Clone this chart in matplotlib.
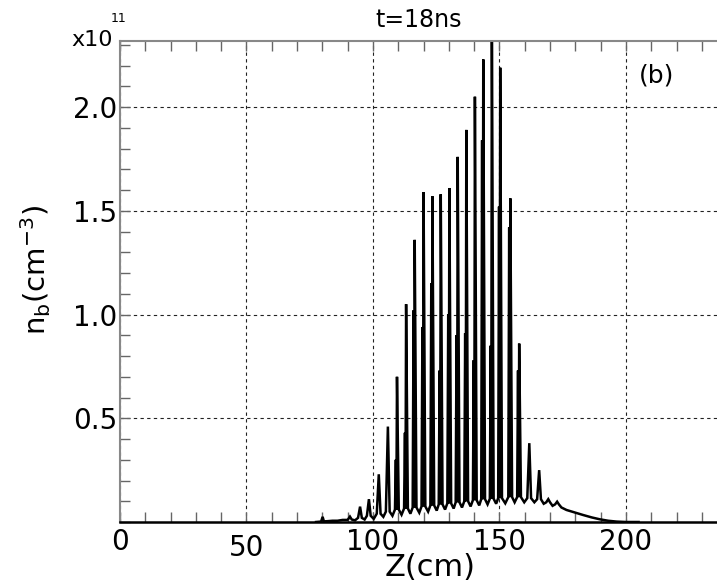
import matplotlib
matplotlib.use("Agg")
import matplotlib.pyplot as plt
from matplotlib.ticker import MultipleLocator

# ---- data (Z in cm, n_b in 1e11 cm^-3) ----
head_z = [77.5, 79.5, 80.1, 80.6, 82.0, 84.0, 86.0, 88.0, 89.8]
head_n = [0.0, 0.002, 0.025, 0.003, 0.004, 0.006, 0.006, 0.010, 0.010]

peak_z = [90.9, 94.9, 98.4, 102.3, 105.9, 109.5, 113.1, 116.5, 120.0, 123.5,
          126.8, 130.2, 133.5, 136.9, 140.3, 143.6, 147.0, 150.3, 154.3, 157.8,
          161.8, 165.7, 169.3, 172.8]
peak_n = [0.026, 0.074, 0.11, 0.23, 0.46, 0.70, 1.05, 1.36, 1.59, 1.57,
          1.58, 1.61, 1.76, 1.89, 2.05, 2.23, 2.45, 2.19, 1.56, 0.86,
          0.38, 0.25, 0.11, 0.098]
shoulder_n = [0, 0, 0, 0, 0, 0.30, 0.43, 1.02, 0.94, 1.15,
              0.73, 1.00, 0.90, 0.91, 0.78, 1.84, 0.85, 1.52, 1.42, 0.73,
              0, 0, 0, 0]

trough_z = [92.9, 96.7, 100.3, 104.1, 107.7, 111.3, 114.8, 118.3, 121.8, 125.2,
            128.5, 131.9, 135.2, 138.6, 142.0, 145.3, 148.7, 152.3, 156.0, 159.8,
            163.8, 167.5, 171.0]
trough_n = [0.008, 0.012, 0.015, 0.025, 0.030, 0.035, 0.040, 0.045, 0.050, 0.055,
            0.060, 0.065, 0.070, 0.075, 0.080, 0.085, 0.088, 0.090, 0.095, 0.095,
            0.095, 0.088, 0.078]
foot_n = [0.012, 0.02, 0.03, 0.04, 0.05, 0.06, 0.065, 0.07, 0.075, 0.08,
          0.085, 0.09, 0.095, 0.10, 0.105, 0.11, 0.112, 0.115, 0.12, 0.12,
          0.115, 0.11, 0.095, 0.085]

tail_z = [174.5, 176.5, 180.0, 183.0, 186.5, 189.7, 193.0, 196.3, 200.0, 205.0]
tail_n = [0.070, 0.058, 0.045, 0.034, 0.022, 0.013, 0.006, 0.002, 0.0, 0.0]

xticks = [0, 50, 100, 150, 200]
xticklabels = ["0", "50", "100", "150", "200"]
yticks = [0.5, 1.0, 1.5, 2.0]
yticklabels = ["0.5", "1.0", "1.5", "2.0"]

# ---- assemble polyline from read values ----
zs = list(head_z)
ns = list(head_n)
for i, (p, h, s, f) in enumerate(zip(peak_z, peak_n, shoulder_n, foot_n)):
    zs.append(p - 0.8); ns.append(f)
    if s > 0:
        zs.append(p - 0.45); ns.append(s)
        zs.append(p - 0.25); ns.append(f)
    zs.append(p); ns.append(h)
    zs.append(p + 0.7); ns.append(f)
    if i < len(trough_z):
        zs.append(trough_z[i]); ns.append(trough_n[i])
zs += tail_z
ns += tail_n

fig = plt.figure(figsize=(7.17, 5.86), dpi=100)
ax = fig.add_axes([120 / 717, 1 - 522 / 586, 597 / 717, (522 - 40.7) / 586])

ax.plot(zs, ns, color="black", lw=1.8, solid_joinstyle="miter")

ax.set_xlim(0, 236)
ax.set_ylim(0, 2.32)

ax.set_xticks(xticks)
ax.set_xticklabels(xticklabels)
ax.set_yticks(yticks)
ax.set_yticklabels(yticklabels)
ax.xaxis.set_minor_locator(MultipleLocator(10))
ax.yaxis.set_minor_locator(MultipleLocator(0.1))

ax.tick_params(axis="both", which="both", direction="in", colors="#666666",
               labelcolor="black", width=1, length=7, labelsize=20,
               top=True, right=False)
ax.tick_params(axis="x", pad=4)
ax.tick_params(axis="y", pad=2)

ax.grid(True, which="major", color="#222222", linestyle=(0, (3, 3)), lw=0.8)

for side in ["left", "top"]:
    ax.spines[side].set_color("#888888")
    ax.spines[side].set_linewidth(1.5)
ax.spines["right"].set_visible(False)
ax.spines["bottom"].set_color("black")
ax.spines["bottom"].set_linewidth(1.8)

# the "50" label sits lower in the reference
for lbl in ax.get_xticklabels():
    if lbl.get_text() == "50":
        lbl.set_y(-0.014)

fig.text(419 / 717, 1 - 20 / 586, "t=18ns", ha="center", va="center", fontsize=17)
ax.text(657 / 717, 1 - 76 / 586, "(b)", transform=fig.transFigure,
        ha="center", va="center", fontsize=18)
fig.text(92 / 717, 1 - 40 / 586, "x10", ha="center", va="center", fontsize=16)
fig.text(119 / 717, 1 - 18 / 586, "11", ha="center", va="center", fontsize=9)

fig.text(430 / 717, 1 - 568 / 586, "Z(cm)", ha="center", va="center", fontsize=22)
fig.text(36 / 717, 1 - 270 / 586, r"n$_\mathrm{b}$(cm$^{\mathrm{-3}}$)",
         ha="center", va="center", rotation=90, fontsize=21)

fig.savefig("out.png", dpi=100)
